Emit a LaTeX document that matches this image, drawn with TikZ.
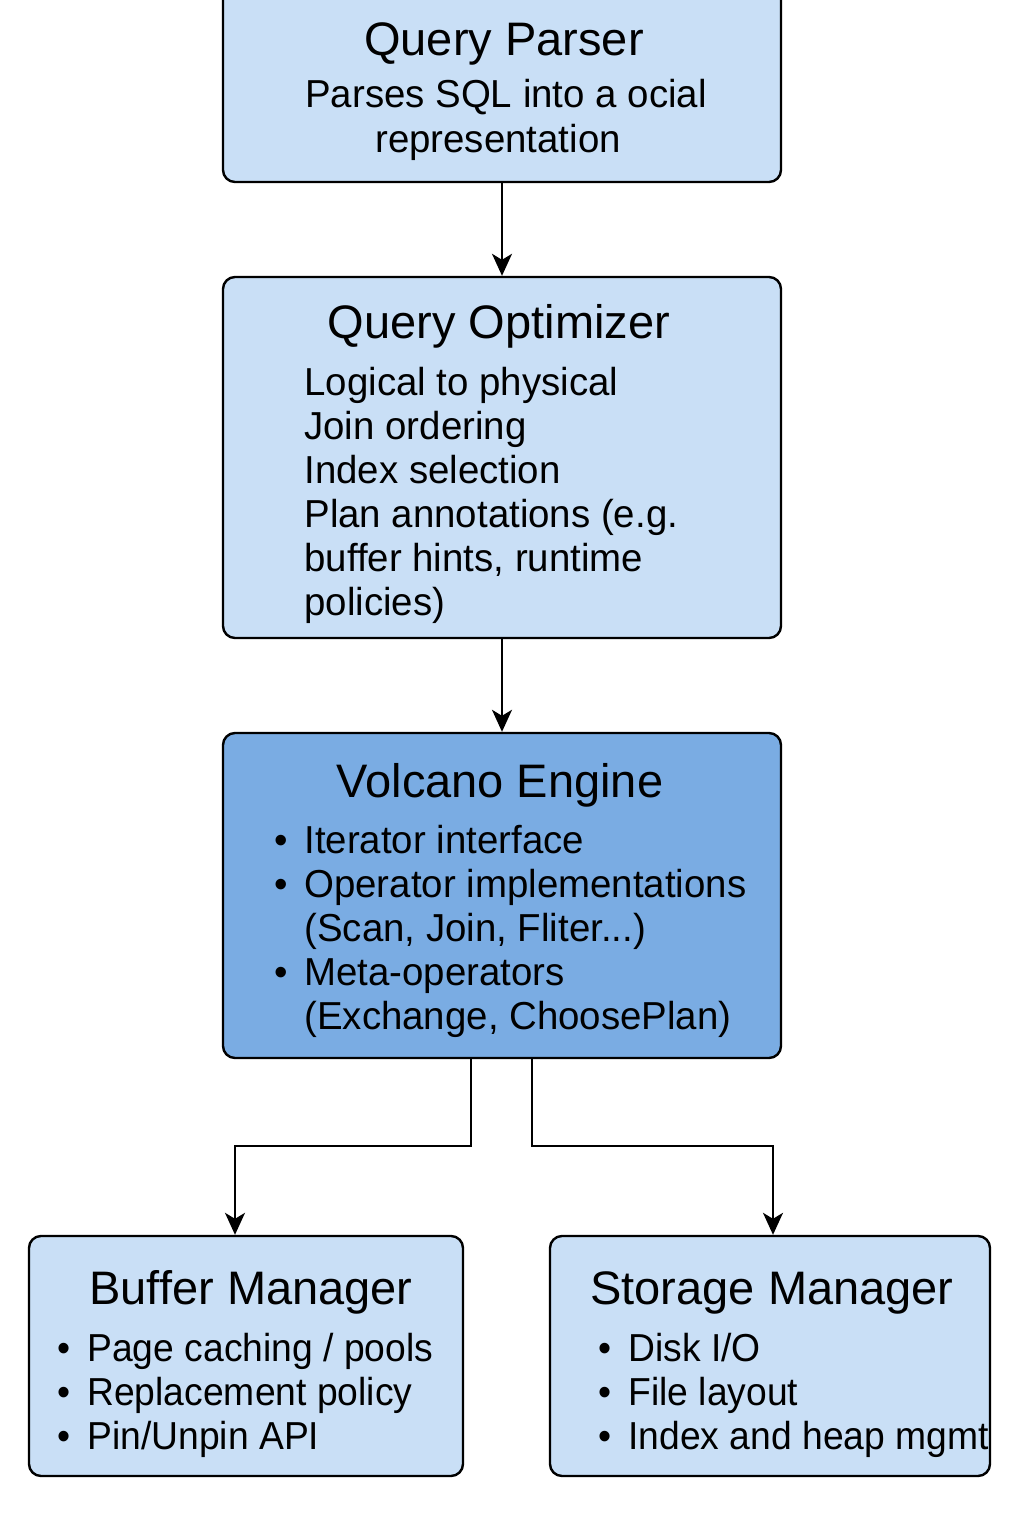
\documentclass[tikz,border=0pt]{standalone}
\usepackage{fontspec}
\setmainfont{Liberation Sans}
\newfontfamily\bodyfont[FakeStretch=0.985]{Liberation Sans}
\newfontfamily\narrowfont[FakeStretch=0.955]{Liberation Sans}
\usetikzlibrary{arrows.meta}
\definecolor{boxlight}{RGB}{201,223,246}
\definecolor{boxdark}{RGB}{122,172,227}
\newcommand{\bul}{\llap{\makebox[23pt]{\textbullet}}}
\tikzset{
  box/.style={draw=black, line width=1.2pt, rounded corners=6pt, fill=boxlight, inner sep=0pt},
  darkbox/.style={box, fill=boxdark},
  ttl/.style={anchor=base, inner sep=0pt, font=\fontsize{23.5}{26}\selectfont},
  ln/.style={anchor=base west, inner sep=0pt, font=\bodyfont\fontsize{19.5}{22}\selectfont},
  lnc/.style={anchor=base, inner sep=0pt, font=\bodyfont\fontsize{19.5}{22}\selectfont},
  lnn/.style={anchor=base west, inner sep=0pt, font=\narrowfont\fontsize{19.5}{22}\selectfont},
  arr/.style={draw=black, line width=1pt, -{Stealth[length=11pt,width=10pt,inset=3pt]}}
}
\begin{document}
\begin{tikzpicture}[x=0.5pt,y=-0.5pt]
\useasboundingbox (0,0) rectangle (1024,1536);
\clip (0,0) rectangle (1024,1536);
\fill[white] (0,0) rectangle (1024,1536);
% boxes
\node[box, minimum width=279pt, minimum height=101pt] (qp) at (502,81) {};
\node[box, minimum width=279pt, minimum height=180.5pt] (qo) at (502,457.5) {};
\node[darkbox, minimum width=279pt, minimum height=162.5pt] (ve) at (502,895.5) {};
\node[box, minimum width=217pt, minimum height=120pt] (bm) at (246,1356) {};
\node[box, minimum width=220pt, minimum height=120pt] (sm) at (770,1356) {};
% Query Parser text
\node[ttl] (qpt) at (504,56) {Query Parser};
\node[lnc] (qp1) at (506,108) {Parses SQL into a ocial};
\node[lnc] (qp2) at (498,152) {representation};
% Query Optimizer text
\node[ttl] (qot) at (499,338) {Query Optimizer};
\node[ln] (qo1) at (304,395) {Logical to physical};
\node[ln] (qo2) at (304,439) {Join ordering};
\node[ln] (qo3) at (304,483) {Index selection};
\node[ln] (qo4) at (304,527) {Plan annotations (e.g.};
\node[ln] (qo5) at (304,571) {buffer hints, runtime};
\node[ln] (qo6) at (304,615) {policies)};
% Volcano Engine text
\node[ttl] (vet) at (500,797) {Volcano Engine};
\node[ln] (ve1) at (304,853) {\bul Iterator interface};
\node[ln] (ve2) at (304,897) {\bul Operator implementations};
\node[ln] (ve3) at (304,941) {(Scan, Join, Fliter...)};
\node[ln] (ve4) at (304,985) {\bul Meta-operators};
\node[ln] (ve5) at (304,1029) {(Exchange, ChoosePlan)};
% Buffer Manager text
\node[ttl] (bmt) at (251,1304) {Buffer Manager};
\node[lnn] (bm1) at (87,1361) {\bul Page caching / pools};
\node[lnn] (bm2) at (87,1405) {\bul Replacement policy};
\node[lnn] (bm3) at (87,1449) {\bul Pin/Unpin API};
% Storage Manager text
\node[ttl] (smt) at (772,1304) {Storage Manager};
\node[lnn] (sm1) at (628,1361) {\bul Disk I/O};
\node[lnn] (sm2) at (628,1405) {\bul File layout};
\node[lnn] (sm3) at (628,1449) {\bul Index and heap mgmt};
% connectors
\draw[arr] (qp.south) -- (qo.north);
\draw[arr] (qo.south) -- (ve.north);
\coordinate (veL) at ([xshift=-15.5pt]ve.south);
\coordinate (veR) at ([xshift=15pt]ve.south);
\coordinate (bmin) at ([xshift=-5.5pt]bm.north);
\coordinate (smin) at ([xshift=1.5pt]sm.north);
\draw[arr] (veL) -- (veL |- 0,1146) -| (bmin);
\draw[arr] (veR) -- (veR |- 0,1146) -| (smin);
\end{tikzpicture}
\end{document}
